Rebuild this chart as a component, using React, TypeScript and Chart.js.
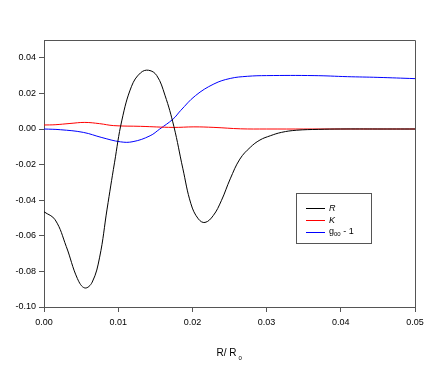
import React, { useEffect, useRef } from "react";
import { Chart, registerables } from "chart.js";

Chart.register(...registerables);

// R (black)
const rX = [0, 0.0015, 0.003, 0.0045, 0.0055, 0.0065, 0.0075, 0.0085, 0.0095, 0.0105, 0.0118, 0.013, 0.0141, 0.0152, 0.0163, 0.0175, 0.0187, 0.0198, 0.0208, 0.0217, 0.0228, 0.0239, 0.0251, 0.0264, 0.0278, 0.0291, 0.0305, 0.032, 0.034, 0.037, 0.04, 0.045, 0.05];
const rY = [-0.0465, -0.051, -0.066, -0.084, -0.0893, -0.086, -0.072, -0.045, -0.019, 0.005, 0.024, 0.0315, 0.033, 0.03, 0.019, 0.0015, -0.022, -0.042, -0.0505, -0.0525, -0.0487, -0.0403, -0.028, -0.0169, -0.0103, -0.0062, -0.0038, -0.0019, -0.0007, -0.0002, 0, 0, 0];

// K (red)
const kX = [0, 0.0015, 0.0035, 0.0055, 0.0075, 0.0094, 0.013, 0.0174, 0.0202, 0.0229, 0.0265, 0.03, 0.04, 0.05];
const kY = [0.00225, 0.0024, 0.0031, 0.0037, 0.003, 0.0019, 0.0015, 0.0009, 0.0012, 0.0009, 0.0001, 0.0, 0, 0];

// g00 - 1 (blue)
const gX = [0, 0.0022, 0.0053, 0.0078, 0.0103, 0.012, 0.0143, 0.0156, 0.0174, 0.0184, 0.0204, 0.0229, 0.0251, 0.0274, 0.03, 0.0364, 0.0409, 0.045, 0.05];
const gY = [0, -0.0004, -0.0019, -0.0048, -0.0072, -0.0071, -0.0038, 0, 0.0056, 0.0103, 0.0187, 0.0253, 0.0284, 0.0296, 0.03, 0.03, 0.0294, 0.029, 0.0283];

const xTicks = [0, 0.01, 0.02, 0.03, 0.04, 0.05];
const yTicks = [-0.1, -0.08, -0.06, -0.04, -0.02, 0, 0.02, 0.04];

const FONT = "Liberation Sans, Arial, sans-serif";

const pts = (xs: number[], ys: number[]) => xs.map((x, i) => ({ x, y: ys[i] }));

const decor = {
  id: "decor",
  afterDraw(chart: any) {
    const { ctx, chartArea } = chart;
    const { left, top, right, bottom } = chartArea;
    ctx.save();
    ctx.strokeStyle = "#555";
    ctx.lineWidth = 1;
    ctx.beginPath();
    ctx.moveTo(Math.round(left), Math.round(top) + 0.5);
    ctx.lineTo(Math.round(right) + 0.5, Math.round(top) + 0.5);
    ctx.lineTo(Math.round(right) + 0.5, Math.round(bottom));
    ctx.stroke();

    // x axis title with subscript
    ctx.fillStyle = "#000";
    ctx.textBaseline = "alphabetic";
    ctx.font = `10px ${FONT}`;
    const main = "R/ R";
    const w = ctx.measureText(main).width;
    const cx = (left + right) / 2;
    const x0 = cx - w / 2 - 3;
    ctx.textAlign = "left";
    ctx.fillText(main, x0, 356);
    ctx.font = `6px ${FONT}`;
    ctx.fillText("0", x0 + w + 2, 360);

    // legend
    const bx = 296.5, by = 193.5, bw = 75, bh = 50;
    ctx.strokeStyle = "#555";
    ctx.strokeRect(bx, by, bw, bh);
    const items = [
      { color: "#000000", y: 208 },
      { color: "#ff0000", y: 220 },
      { color: "#0000ff", y: 232 },
    ];
    items.forEach((it) => {
      ctx.strokeStyle = it.color;
      ctx.beginPath();
      ctx.moveTo(306, it.y + 0.5);
      ctx.lineTo(325, it.y + 0.5);
      ctx.stroke();
    });
    ctx.fillStyle = "#000";
    ctx.textBaseline = "middle";
    ctx.font = `italic 9px ${FONT}`;
    ctx.fillText("R", 329, 208);
    ctx.fillText("K", 329, 220);
    ctx.font = `9px ${FONT}`;
    ctx.fillText("g", 329, 232);
    const gw = ctx.measureText("g").width;
    ctx.font = `6px ${FONT}`;
    ctx.fillText("00", 329 + gw, 234);
    const sw = ctx.measureText("00").width;
    ctx.font = `9px ${FONT}`;
    ctx.fillText(" - 1", 329 + gw + sw, 232);
    ctx.restore();
  },
};

export default function App() {
  const ref = useRef<HTMLCanvasElement>(null);
  useEffect(() => {
    if (!ref.current) return;
    const ds = (label: string, color: string, data: any[]) => ({
      label,
      data,
      borderColor: color,
      backgroundColor: color,
      borderWidth: 1,
      pointRadius: 0,
      tension: 0.4,
      fill: false,
    });
    const chart = new Chart(ref.current, {
      type: "line",
      data: {
        datasets: [
          ds("R", "#000000", pts(rX, rY)),
          ds("K", "#ff0000", pts(kX, kY)),
          ds("g00 - 1", "#0000ff", pts(gX, gY)),
        ],
      },
      options: {
        animation: false,
        responsive: false,
        layout: { padding: { top: 40, right: 21, left: 0, bottom: 0 } },
        plugins: { legend: { display: false }, tooltip: { enabled: false } },
        scales: {
          x: {
            type: "linear",
            min: 0,
            max: 0.05,
            afterFit: (s: any) => { s.height = 68; },
            afterBuildTicks: (s: any) => { s.ticks = xTicks.map((v) => ({ value: v })); },
            grid: { drawOnChartArea: false, tickLength: 5, color: "#555" },
            border: { color: "#555" },
            ticks: {
              color: "#000",
              padding: 5,
              font: { family: FONT, size: 9 },
              maxRotation: 0,
              callback: (v: any) => Number(v).toFixed(2),
            },
          },
          y: {
            type: "linear",
            min: -0.1,
            max: 0.05,
            afterFit: (s: any) => { s.width = 44; },
            afterBuildTicks: (s: any) => { s.ticks = yTicks.map((v) => ({ value: v })); },
            grid: { drawOnChartArea: false, tickLength: 5, color: "#555" },
            border: { color: "#555" },
            ticks: {
              color: "#000",
              padding: 3,
              font: { family: FONT, size: 9 },
              callback: (v: any) => Number(v).toFixed(2),
            },
          },
        },
      },
      plugins: [decor],
    });
    return () => chart.destroy();
  }, []);
  return (
    <div style={{ position: "absolute", left: 0, top: 0, width: 436, height: 375, background: "#fff" }}>
      <canvas ref={ref} width={436} height={375} />
    </div>
  );
}
